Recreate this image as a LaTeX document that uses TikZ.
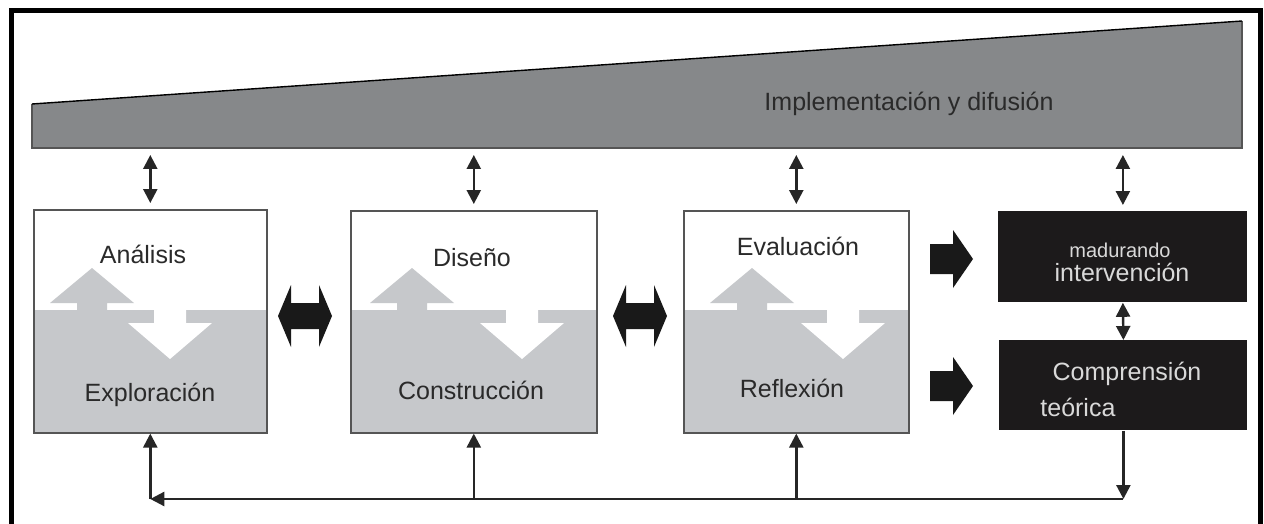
\documentclass[tikz,border=0pt]{standalone}
\usepackage{fontspec}
\setmainfont{Liberation Sans}
\usetikzlibrary{arrows.meta,calc,positioning}
\definecolor{trapgray}{HTML}{86888A}
\definecolor{lowgray}{HTML}{C6C8CB}
\definecolor{boxline}{HTML}{555555}
\definecolor{txtgray}{HTML}{2A2A2A}
\definecolor{blkbox}{HTML}{1C1A1B}

% grey arrow up and white arrow down inside a stage box
\newcommand{\updown}[2]{%
  \fill[lowgray] (#1-15,310) -- (#1-15,303) -- (#1-42,303) -- (#1,268) -- (#1+42,303) -- (#1+15,303) -- (#1+15,310) -- cycle;
  \fill[white] (#2-16,310) -- (#2-16,323) -- (#2-42,323) -- (#2,359) -- (#2+42,323) -- (#2+16,323) -- (#2+16,310) -- cycle;}

\begin{document}
\begin{tikzpicture}[x=0.5pt, y=-0.5pt]
		\tikzstyle{every node}=[font=\fontsize{12.5}{15}\selectfont, text=txtgray, inner sep=0pt]
		\tikzstyle{stage}=[draw=boxline, line width=0.8pt, anchor=north west]
		\tikzstyle{outbox}=[fill=blkbox, anchor=north west]
		\tikzstyle{outtext}=[text=white!85!black]
		\tikzstyle{link}=[line width=1.2pt, draw=black!85, {Triangle[length=7pt,width=7pt]}-{Triangle[length=7pt,width=7pt]}]
		\tikzstyle{back}=[line width=1.2pt, draw=black!85, -{Triangle[length=7pt,width=7pt]}]
		\tikzstyle{block}=[fill=black!90]
		\useasboundingbox (0,0) rectangle (1264,524);
		\fill[white] (0,0) rectangle (1264,524);
		\draw[line width=2.5pt] (11,10.5) rectangle (1260.5,540);
		% wedge on top
		\fill[trapgray] (32,104) -- (1242,21) -- (1242,148) -- (32,148) -- cycle;
		\draw[boxline, line width=0.6pt] (1242,21) -- (1242,148) -- (32,148) -- (32,104);
		\draw[black, line width=0.7pt] (32,104) -- (1242,21);
		\node[anchor=base] (impl) at (909,111) {Implementación y difusión};
		\coordinate (base) at (0,148);
		\coordinate (fbline) at (0,499);
		% lower halves of the stage boxes
		\fill[lowgray] (33,310) rectangle (266,432);
		\fill[lowgray] (350,310) rectangle (596,432);
		\fill[lowgray] (683,310) rectangle (908,432);
		\updown{92}{170}
		\updown{412}{522}
		\updown{752}{843}
		\node[stage, minimum width=116.5pt, minimum height=111.5pt] (ana) at (33,209) {};
		\node[stage, minimum width=123pt, minimum height=111pt] (dis) at (350,210) {};
		\node[stage, minimum width=112.5pt, minimum height=111pt] (eva) at (683,210) {};
		\node[outbox, minimum width=124.5pt, minimum height=45.5pt] (mad) at (998,211) {};
		\node[outbox, minimum width=124pt, minimum height=45pt] (comp) at (999,340) {};
		\node[anchor=base] (anat) at (143,263) {Análisis};
		\node[anchor=base] (expt) at (150,401) {Exploración};
		\node[anchor=base] (dist) at (472,266) {Diseño};
		\node[anchor=base] (cont) at (471,399) {Construcción};
		\node[anchor=base] (evat) at (798,255) {Evaluación};
		\node[anchor=base] (reft) at (792,397) {Reflexión};
		\node[outtext, anchor=base, font=\fontsize{10}{12}\selectfont] (madt) at (1120,257) {madurando};
		\node[outtext, anchor=base] (intt) at (1122,281) {intervención};
		\node[outtext, anchor=base] (compt) at (1127,380) {Comprensión};
		\node[outtext, anchor=base west] (teot) at (1040,416) {teórica};
		% thick arrows
		\fill[block, shift={(305,316)}] (-27,0) -- (-14,-31) -- (-14,-13) -- (14,-13) -- (14,-31) -- (27,0) -- (14,31) -- (14,13) -- (-14,13) -- (-14,31) -- cycle;
		\fill[block, shift={(640,316)}] (-27,0) -- (-14,-31) -- (-14,-13) -- (14,-13) -- (14,-31) -- (27,0) -- (14,31) -- (14,13) -- (-14,13) -- (-14,31) -- cycle;
		\fill[block, shift={(951,259)}] (-21,-15) -- (2,-15) -- (2,-29) -- (22,0) -- (2,29) -- (2,15) -- (-21,15) -- cycle;
		\fill[block, shift={(951,386)}] (-21,-15) -- (2,-15) -- (2,-29) -- (22,0) -- (2,29) -- (2,15) -- (-21,15) -- cycle;
		% links to the wedge
		\foreach \b in {ana,dis,eva,mad}
			\draw[link, shorten <=3.5pt, shorten >=3pt] (\b.north |- base) -- (\b.north);
		\draw[link] (mad.south) -- (comp.north);
		% feedback loop
		\draw[back] (comp.south) -- (comp.south |- fbline);
		\draw[back] (comp.south |- fbline) -- (ana.south |- fbline);
		\foreach \b in {ana,dis,eva}
			\draw[back] (\b.south |- fbline) -- (\b.south);
		\end{tikzpicture}
\end{document}
